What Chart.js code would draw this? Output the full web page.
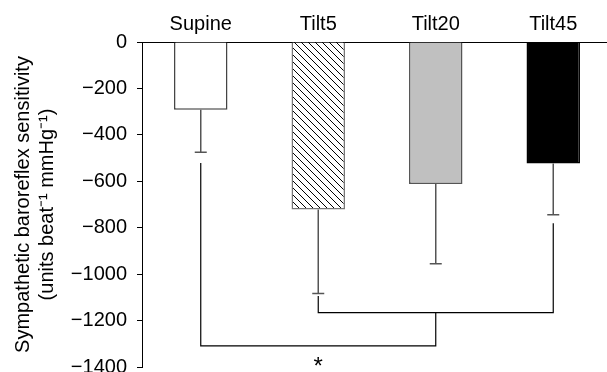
<!DOCTYPE html>
<html>
<head>
<meta charset="utf-8">
<script src="https://cdn.jsdelivr.net/npm/chart.js@4/dist/chart.umd.min.js"></script>
<style>
  html, body { margin: 0; padding: 0; overflow: hidden; background: #fff; }
  canvas { display: block; }
</style>
</head>
<body>
<canvas id="c" width="612" height="372"></canvas>
<script>
// ---- data ----
const categories = ['Supine', 'Tilt5', 'Tilt20', 'Tilt45'];
const means = [-292, -721, -612, -523];
const errors = [183, 362, 343, 221];
const yTicks = [0, -200, -400, -600, -800, -1000, -1200, -1400];
// significance brackets: [category, value] points
const bracketSupineTilt20 = [['Supine', -521], ['Supine', -1309], ['Tilt20', -1309], ['Tilt20', -1166]];
const bracketTilt5Tilt45 = [['Tilt5', -1094], ['Tilt5', -1166], ['Tilt45', -1166], ['Tilt45', -781]];
const starPos = ['Tilt5', -1370];

const FONT = "'Liberation Sans', Arial, Helvetica, sans-serif";
Chart.defaults.color = '#000';
Chart.defaults.font.family = FONT;

function hatch() {
  const c = document.createElement('canvas');
  c.width = 7; c.height = 7;
  const g = c.getContext('2d');
  g.fillStyle = '#fff'; g.fillRect(0, 0, 7, 7);
  g.strokeStyle = '#000'; g.lineWidth = 1;
  g.beginPath();
  for (const k of [-7, 0, 7]) { g.moveTo(k, 0); g.lineTo(k + 7, 7); }
  g.stroke();
  return g.createPattern(c, 'repeat');
}

const errorBars = {
  id: 'errorBars',
  afterDatasetsDraw(chart) {
    const ctx = chart.ctx;
    const y = chart.scales.y;
    const meta = chart.getDatasetMeta(0);
    ctx.save();
    ctx.strokeStyle = '#555';
    ctx.lineWidth = 1.5;
    meta.data.forEach((bar, i) => {
      const y0 = y.getPixelForValue(means[i]);
      const y1 = y.getPixelForValue(means[i] - errors[i]);
      ctx.beginPath();
      ctx.moveTo(bar.x, y0); ctx.lineTo(bar.x, y1);
      ctx.moveTo(bar.x - 6, y1); ctx.lineTo(bar.x + 6, y1);
      ctx.stroke();
    });
    // asterisk
    const xs = chart.scales.x;
    const px = xs.getPixelForValue(categories.indexOf(starPos[0]));
    const py = y.getPixelForValue(starPos[1]);
    ctx.fillStyle = '#000';
    ctx.font = '24px ' + FONT;
    ctx.textAlign = 'center';
    ctx.textBaseline = 'alphabetic';
    ctx.fillText('*', px, py + 14);
    ctx.restore();
  }
};

const toPts = arr => arr.map(p => ({ x: p[0], y: p[1] }));
const lineDs = pts => ({
  type: 'line', data: toPts(pts), borderColor: '#000', borderWidth: 1.2,
  pointRadius: 0, fill: false, tension: 0
});

new Chart(document.getElementById('c'), {
  type: 'bar',
  data: {
    labels: categories,
    datasets: [
      {
        data: means,
        backgroundColor: ['#ffffff', hatch(), '#c0c0c0', '#000000'],
        borderColor: ['#444444', '#777777', '#555555', '#000000'],
        borderWidth: 1.5,
        categoryPercentage: 1,
        barPercentage: 0.455
      },
      lineDs(bracketSupineTilt20),
      lineDs(bracketTilt5Tilt45)
    ]
  },
  options: {
    responsive: false,
    animation: false,
    layout: { padding: { left: 0, right: 0, top: 0, bottom: 5 } },
    plugins: { legend: { display: false }, tooltip: { enabled: false } },
    scales: {
      x: {
        position: 'top',
        grid: { display: false, drawTicks: false },
        border: { display: true, color: '#000', width: 1 },
        ticks: { font: { size: 20 }, padding: 6, color: '#000' },
        afterFit(s) { s.height = 42; s.paddingLeft = 0; s.paddingRight = 0; }
      },
      y: {
        min: -1400, max: 0,
        afterBuildTicks(s) { s.ticks = yTicks.map(v => ({ value: v })); },
        grid: { display: true, drawOnChartArea: false, drawTicks: true, tickLength: 5, color: '#000' },
        border: { display: true, color: '#000', width: 1 },
        ticks: {
          font: { size: 20 }, padding: 10, color: '#000', autoSkip: false,
          callback: v => v === 0 ? '0' : '\u2212' + Math.abs(v)
        },
        title: {
          display: true,
          text: ['Sympathetic baroreflex sensitivity', '(units beat\u207B\u00B9 mmHg\u207B\u00B9)'],
          font: { size: 20 }, color: '#000', padding: { top: 11, bottom: 0 }
        },
        afterFit(s) { s.width = 142; s.paddingTop = 0; s.paddingBottom = 0; }
      }
    }
  },
  plugins: [errorBars]
});
</script>
</body>
</html>
